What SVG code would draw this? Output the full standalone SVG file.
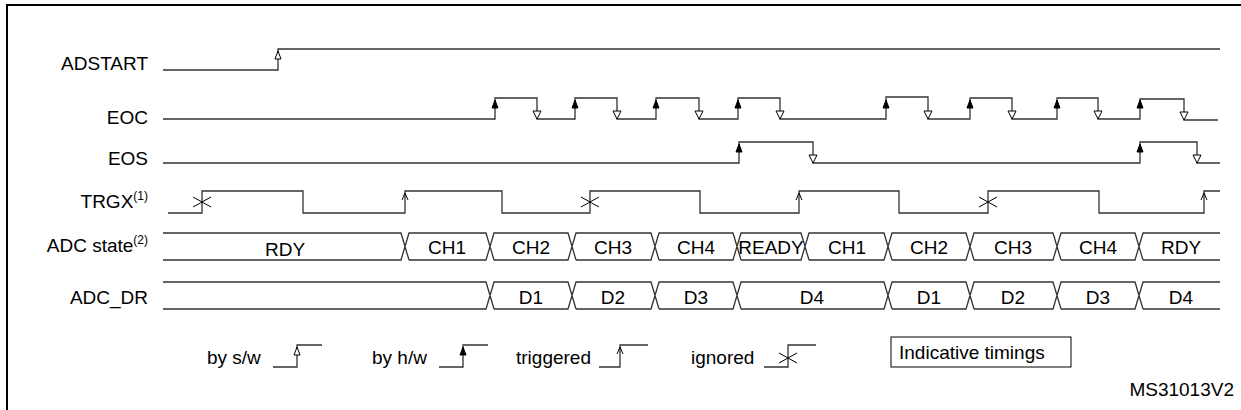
<svg xmlns="http://www.w3.org/2000/svg" width="1241" height="410" viewBox="0 0 1241 410">
<style>
.w{fill:none;stroke:#333;stroke-width:1.3}
.t{font-family:"Liberation Sans",Arial,sans-serif;font-size:19px;fill:#000}
.l{text-anchor:end}
.c{text-anchor:middle}
</style>
<defs>
<polygon id="au" points="0,0 -3,8 3,8" fill="#fff" stroke="#000" stroke-width="1"/>
<polygon id="af" points="0,0 -3,8 3,8" fill="#000" stroke="#000" stroke-width="1"/>
<polygon id="ad" points="0,0 -4,-8 4,-8" fill="#fff" stroke="#000" stroke-width="1"/>
<polyline id="at" points="-3,7 0,0 3,7" fill="none" stroke="#000" stroke-width="1"/>
<g id="ax" stroke="#000" stroke-width="1"><line x1="-9" y1="-5" x2="9" y2="5"/><line x1="-9" y1="5" x2="9" y2="-5"/></g>
</defs>
<rect x="0" y="0" width="1241" height="410" fill="#fff"/>
<path d="M7,410 V5 H1241" fill="none" stroke="#000" stroke-width="2"/>
<g id="labels">
<text class="t l" x="148" y="70">ADSTART</text>
<text class="t l" x="148" y="124">EOC</text>
<text class="t l" x="148" y="165">EOS</text>
<text class="t l" x="148" y="208">TRGX<tspan font-size="12" dy="-8">(1)</tspan></text>
<text class="t l" x="148" y="252">ADC state<tspan font-size="12" dy="-8">(2)</tspan></text>
<text class="t l" x="148" y="304">ADC_DR</text>
</g>
<g id="connectors">
<g id="adstart"><path class="w" d="M163,70 H278 V49 H1220"/><use href="#au" x="278" y="51"/></g>
<g id="eoc">
<path class="w" d="M163,119 H495 V98 H537 V119 H575 V98 H617 V119 H656 V98 H699 V119 H738 V98 H780 V119 H886 V97 H928 V119 H970 V98 H1012 V119 H1057 V98 H1098 V119 H1140 V99 H1184 V120 H1218"/>
<use href="#af" x="495" y="100"/><use href="#af" x="575" y="100"/><use href="#af" x="656" y="100"/><use href="#af" x="738" y="100"/><use href="#af" x="886" y="100"/><use href="#af" x="970" y="100"/><use href="#af" x="1057" y="100"/><use href="#af" x="1140" y="100"/>
<use href="#ad" x="537" y="119"/><use href="#ad" x="617" y="119"/><use href="#ad" x="699" y="119"/><use href="#ad" x="780" y="119"/><use href="#ad" x="928" y="119"/><use href="#ad" x="1012" y="119"/><use href="#ad" x="1098" y="119"/><use href="#ad" x="1184" y="120"/>
</g>
<g id="eos">
<path class="w" d="M163,163 H739 V142 H813 V163 H1140 V142 H1197 V163 H1220"/>
<use href="#af" x="739" y="144"/><use href="#af" x="1140" y="144"/><use href="#ad" x="813" y="163"/><use href="#ad" x="1197" y="163"/>
</g>
<g id="trgx">
<path class="w" d="M168,213 H202 V191 H303 V213 H405 V191 H502 V213 H590 V191 H700 V213 H799 V191 H899 V213 H988 V191 H1099 V213 H1204 V191 H1220"/>
<use href="#ax" x="202" y="202"/><use href="#ax" x="590" y="202"/><use href="#ax" x="988" y="202"/>
<use href="#at" x="405" y="193"/><use href="#at" x="799" y="193"/><use href="#at" x="1204" y="193"/>
</g>
<g id="adcstate">
<path class="w" d="M163,233 H401 L409,260 M163,260 H401 L409,233 H486 L494,260 M409,260 H486 L494,233 H568 L576,260 M494,260 H568 L576,233 H651 L659,260 M576,260 H651 L659,233 H733 L741,260 M659,260 H733 L741,233 H801 L809,260 M741,260 H801 L809,233 H884 L892,260 M809,260 H884 L892,233 H966 L974,260 M892,260 H966 L974,233 H1053 L1061,260 M974,260 H1053 L1061,233 H1135 L1143,260 M1061,260 H1135 L1143,233 H1220 M1143,260 H1220"/>
</g>
<g id="adcdr">
<path class="w" d="M163,282 H486 L494,309 M163,309 H486 L494,282 H568 L576,309 M494,309 H568 L576,282 H651 L659,309 M576,309 H651 L659,282 H733 L741,309 M659,309 H733 L741,282 H884 L892,309 M741,309 H884 L892,282 H966 L974,309 M892,309 H966 L974,282 H1053 L1061,309 M974,309 H1053 L1061,282 H1135 L1143,309 M1061,309 H1135 L1143,282 H1220 M1143,309 H1220"/>
</g>
</g>
<g id="states">
<text class="t c" x="285" y="256">RDY</text>
<text class="t c" x="447" y="254">CH1</text>
<text class="t c" x="531" y="254">CH2</text>
<text class="t c" x="613" y="254">CH3</text>
<text class="t c" x="696" y="254">CH4</text>
<text class="t c" x="771" y="254">READY</text>
<text class="t c" x="847" y="254">CH1</text>
<text class="t c" x="929" y="254">CH2</text>
<text class="t c" x="1013" y="254">CH3</text>
<text class="t c" x="1098" y="254">CH4</text>
<text class="t c" x="1181" y="254">RDY</text>
<text class="t c" x="531" y="304">D1</text>
<text class="t c" x="613" y="304">D2</text>
<text class="t c" x="696" y="304">D3</text>
<text class="t c" x="812" y="304">D4</text>
<text class="t c" x="929" y="304">D1</text>
<text class="t c" x="1013" y="304">D2</text>
<text class="t c" x="1098" y="304">D3</text>
<text class="t c" x="1181" y="304">D4</text>
</g>
<g id="legend">
<text class="t" x="207" y="364">by s/w</text>
<path class="w" d="M273,367 H297 V345 H322"/><use href="#au" x="297" y="347"/>
<text class="t" x="372" y="364">by h/w</text>
<path class="w" d="M439,367 H463 V345 H488"/><use href="#af" x="463" y="347"/>
<text class="t" x="516" y="364">triggered</text>
<path class="w" d="M599,367 H620 V345 H648"/><use href="#at" x="620" y="347"/>
<text class="t" x="691" y="364">ignored</text>
<path class="w" d="M764,367 H788 V345 H816"/><use href="#ax" x="788" y="358"/>
<rect x="891" y="337" width="180" height="30" fill="none" stroke="#000" stroke-width="1"/>
<text class="t" x="899" y="359">Indicative timings</text>
<text class="t" x="1234" y="396" font-size="13" text-anchor="end">MS31013V2</text>
</g>
</svg>
